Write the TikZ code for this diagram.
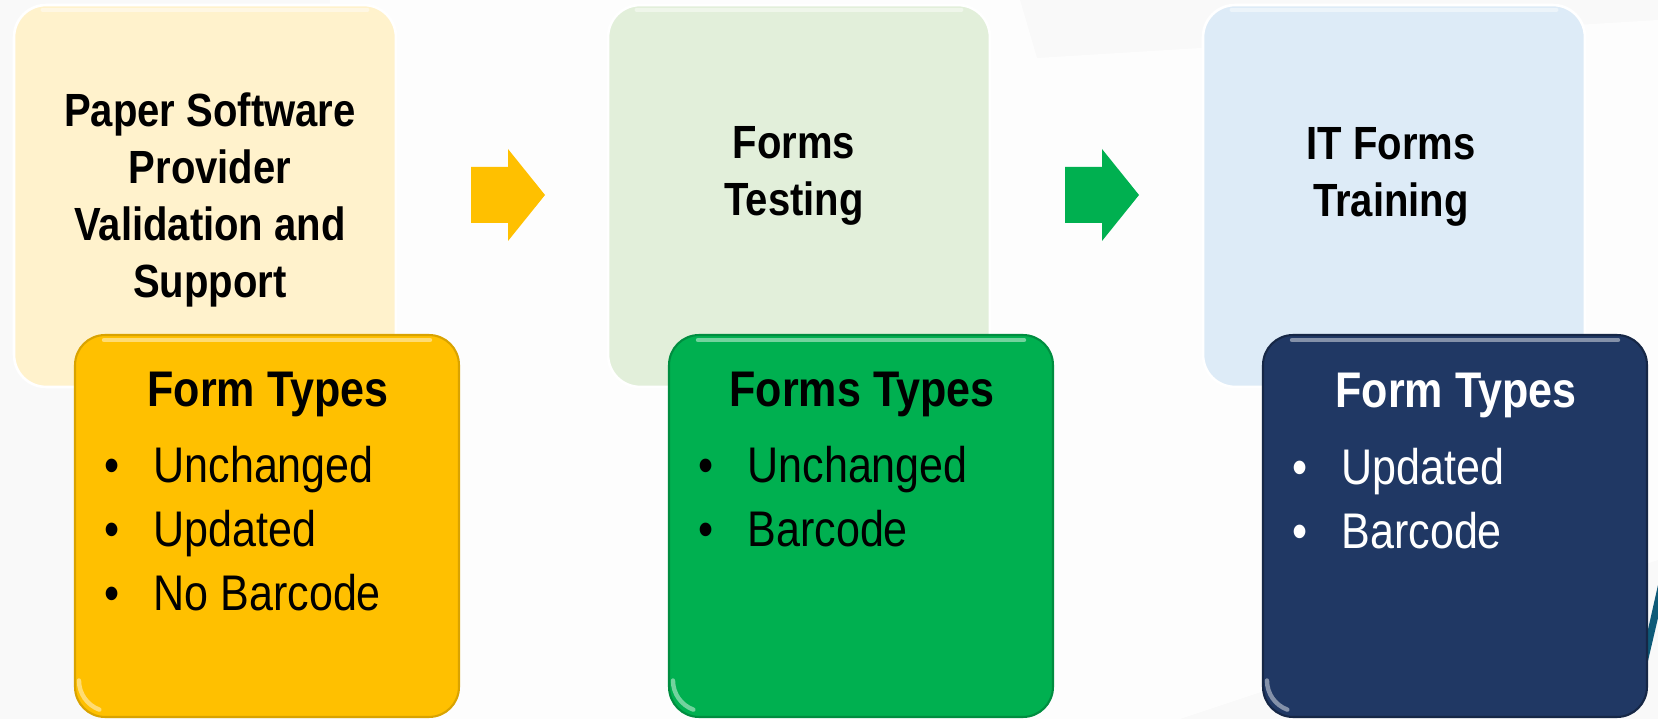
\documentclass[tikz,border=0pt]{standalone}
\usepackage{fontspec}
\setmainfont{Liberation Sans}[FakeStretch=0.86]
\usetikzlibrary{positioning}
\definecolor{paleyel}{HTML}{FFF2CC}
\definecolor{palegrn}{HTML}{E2EFDA}
\definecolor{paleblu}{HTML}{DDEBF7}
\definecolor{gold}{HTML}{FFC000}
\definecolor{leaf}{HTML}{00B050}
\definecolor{navy}{HTML}{203864}
\definecolor{swoosh}{HTML}{0E5A78}
\colorlet{bgcol}{gray!5}
\newcommand{\bul}{\makebox[28pt][l]{\textbullet}}

\tikzset{
  stagebox/.style={minimum width=7.64cm, minimum height=7.64cm, rounded corners=0.64cm,
    inner sep=0pt, draw=white, line width=1.5pt},
  typebox/.style={minimum width=7.68cm, minimum height=7.64cm, rounded corners=0.6cm,
    inner sep=0pt, line width=1.2pt},
  stagetext/.style={align=center, inner sep=0pt, font=\fontsize{26.5}{32.4}\selectfont\bfseries},
  typehead/.style={anchor=base, inner sep=0pt, font=\fontsize{28.5}{34}\selectfont\bfseries},
  typeitem/.style={anchor=base west, inner sep=0pt, font=\fontsize{28.5}{34}\selectfont},
  gloss/.style={white, opacity=.45, line width=2.5pt, line cap=round},
}

\begin{document}
\begin{tikzpicture}[x=0.02cm, y=-0.02cm]
  \useasboundingbox (0,0) rectangle (1658,719);
  % background
  \fill[bgcol] (0,0) rectangle (1658,719);
  \fill[white, opacity=.7] (330,0) -- (1020,0) -- (1037,58) -- (1658,20) -- (1658,560) -- (1180,719) -- (380,719) -- cycle;
  \fill[swoosh] (1640,665) -- (1658,585) -- (1658,618) -- (1640,695) -- cycle;

  % stages
  \node[stagebox, fill=paleyel] (paper) at (205,196) {};
  \node[stagebox, fill=palegrn] (test) at (799,196) {};
  \node[stagebox, fill=paleblu] (train) at (1394,196) {};

  \node[stagetext] (paperlbl) at (210,200) {Paper Software\\Provider\\Validation and\\Support};
  \node[stagetext] (testlbl) at (794,176) {Forms\\Testing};
  \node[stagetext] (trainlbl) at (1391,177) {IT Forms\\Training};

  % block arrows
  \coordinate (arrA) at (471,195);
  \coordinate (arrB) at (1065,195);
  \fill[gold] (arrA) ++(0,-28) -- ++(37,0) -- ++(0,-18) -- ++(37,46) -- ++(-37,46) -- ++(0,-18) -- ++(-37,0) -- cycle;
  \fill[leaf] (arrB) ++(0,-28) -- ++(37,0) -- ++(0,-18) -- ++(37,46) -- ++(-37,46) -- ++(0,-18) -- ++(-37,0) -- cycle;

  % form types
  \node[typebox, fill=gold, draw=gold!85!black] (typesA) at (267,526) {};
  \node[typebox, fill=leaf, draw=leaf!80!black] (typesB) at (861,526) {};
  \node[typebox, fill=navy, draw=navy!70!black] (typesC) at (1455,526) {};

  \foreach \b in {paper,test,train,typesA,typesB,typesC}
    \draw[gloss] ([xshift=0.6cm,yshift=-0.12cm]\b.north west) -- ([xshift=-0.6cm,yshift=-0.12cm]\b.north east);
  \foreach \b in {typesA,typesB,typesC}
    \draw[gloss] ([xshift=0.1cm,yshift=0.75cm]\b.south west) arc[start angle=180, end angle=250, radius=0.62cm];

  \node[typehead] (headA) at (268,407) {Form Types};
  \node[typehead] (headB) at (862,407) {Forms Types};
  \node[typehead, text=white] (headC) at (1456,408) {Form Types};

  \foreach \t [count=\i] in {Unchanged,Updated,No Barcode}
    \node[typeitem] (itemA\i) at (104,419+64*\i) {\bul\t};
  \foreach \t [count=\i] in {Unchanged,Barcode}
    \node[typeitem] (itemB\i) at (698,419+64*\i) {\bul\t};
  \foreach \t [count=\i] in {Updated,Barcode}
    \node[typeitem, text=white] (itemC\i) at (1292,421+64*\i) {\bul\t};
\end{tikzpicture}
\end{document}
